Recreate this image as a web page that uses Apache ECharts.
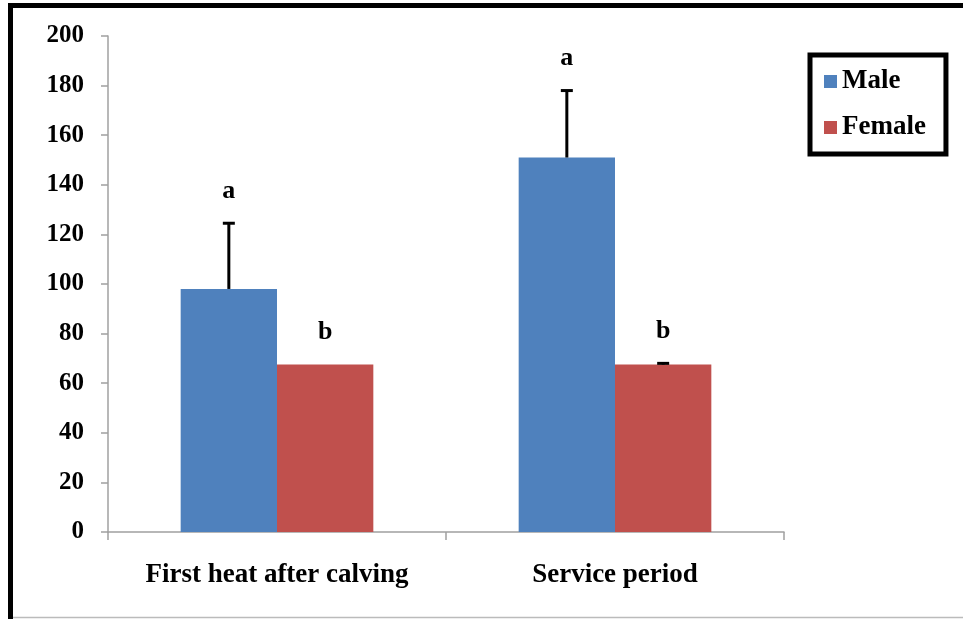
<!DOCTYPE html>
<html>
<head>
<meta charset="utf-8">
<script src="https://cdn.jsdelivr.net/npm/echarts@6/dist/echarts.min.js"></script>
<style>html,body{margin:0;padding:0;background:#fff}#c{width:963px;height:619px}</style>
</head>
<body>
<div id="c"></div>
<script>
const categories = ['First heat after calving', 'Service period'];
const maleValues = [98, 151];
const femaleValues = [67.5, 67.5];
const maleErrors = [26.5, 27];
const femaleErrors = [0, 0.5];
const maleLetters = ['a', 'a'];
const femaleLetters = ['b', 'b'];
const yTicks = [0, 20, 40, 60, 80, 100, 120, 140, 160, 180, 200];

const FONT = '"Liberation Serif", "Times New Roman", serif';
const chart = echarts.init(document.getElementById('c'), null, {renderer: 'canvas'});

function errorSeries(values, errors, letters, offsetIndex) {
  return {
    type: 'custom',
    z: 10,
    data: values.map((v, i) => [i, v, v + errors[i], letters[i]]),
    renderItem: function (params, api) {
      const idx = api.value(0);
      const base = api.coord([idx, api.value(1)]);
      const top = api.coord([idx, api.value(2)]);
      const bandW = api.size([1, 0])[0];
      const barW = bandW * 0.285;
      const x = base[0] + (offsetIndex === 0 ? -barW / 2 : barW / 2);
      const children = [];
      if (api.value(2) > api.value(1)) {
        children.push({type: 'line', shape: {x1: x, y1: base[1], x2: x, y2: top[1]}, style: {stroke: '#000', lineWidth: 3}});
        children.push({type: 'line', shape: {x1: x - 6, y1: top[1], x2: x + 6, y2: top[1]}, style: {stroke: '#000', lineWidth: 3}});
      }
      children.push({type: 'text', x: x, y: top[1] - 32, style: {text: letters[idx], font: 'bold 26px ' + FONT, fill: '#000', align: 'center', verticalAlign: 'middle'}});
      return {type: 'group', children: children};
    }
  };
}

chart.setOption({
  animation: false,
  backgroundColor: '#fff',
  textStyle: {fontFamily: FONT},
  graphic: [
    {type: 'rect', shape: {x: 10.5, y: 5.5, width: 1100, height: 800}, style: {fill: 'none', stroke: '#000', lineWidth: 5}, z: 100},
    {type: 'line', shape: {x1: 13, y1: 617.5, x2: 963, y2: 617.5}, style: {stroke: '#bbb', lineWidth: 1.5}, z: 100}
  ],
  legend: {
    orient: 'vertical',
    left: 810,
    top: 55,
    itemWidth: 13,
    itemHeight: 13,
    itemGap: 19,
    icon: 'rect',
    padding: [13, 20, 13, 14],
    borderColor: '#000',
    borderWidth: 5,
    textStyle: {fontFamily: FONT, fontWeight: 'bold', fontSize: 27, color: '#000'},
    data: ['Male', 'Female']
  },
  grid: {left: 108, right: 179, top: 36, bottom: 87, containLabel: false},
  xAxis: {
    type: 'category',
    data: categories,
    axisLine: {lineStyle: {color: '#a0a0a0', width: 1.5}},
    axisTick: {show: true, alignWithLabel: false, length: 8, lineStyle: {color: '#a0a0a0', width: 1.5}},
    axisLabel: {interval: 0, hideOverlap: false, fontFamily: FONT, fontWeight: 'bold', fontSize: 27, color: '#000', margin: 30}
  },
  yAxis: {
    type: 'value',
    min: 0, max: 200, interval: 20,
    splitLine: {show: false},
    axisLine: {show: true, lineStyle: {color: '#a0a0a0', width: 1.5}},
    axisTick: {show: true, length: 7, lineStyle: {color: '#a0a0a0', width: 1.5}},
    axisLabel: {fontFamily: FONT, fontWeight: 'bold', fontSize: 25, color: '#000', margin: 24,
      formatter: v => yTicks.includes(v) ? String(v) : ''}
  },
  series: [
    {name: 'Male', type: 'bar', data: maleValues, barWidth: '28.5%', barGap: '0%', itemStyle: {color: '#4F81BD'}},
    {name: 'Female', type: 'bar', data: femaleValues, barWidth: '28.5%', barGap: '0%', itemStyle: {color: '#C0504D'}},
    errorSeries(maleValues, maleErrors, maleLetters, 0),
    errorSeries(femaleValues, femaleErrors, femaleLetters, 1)
  ]
});
</script>
</body>
</html>
